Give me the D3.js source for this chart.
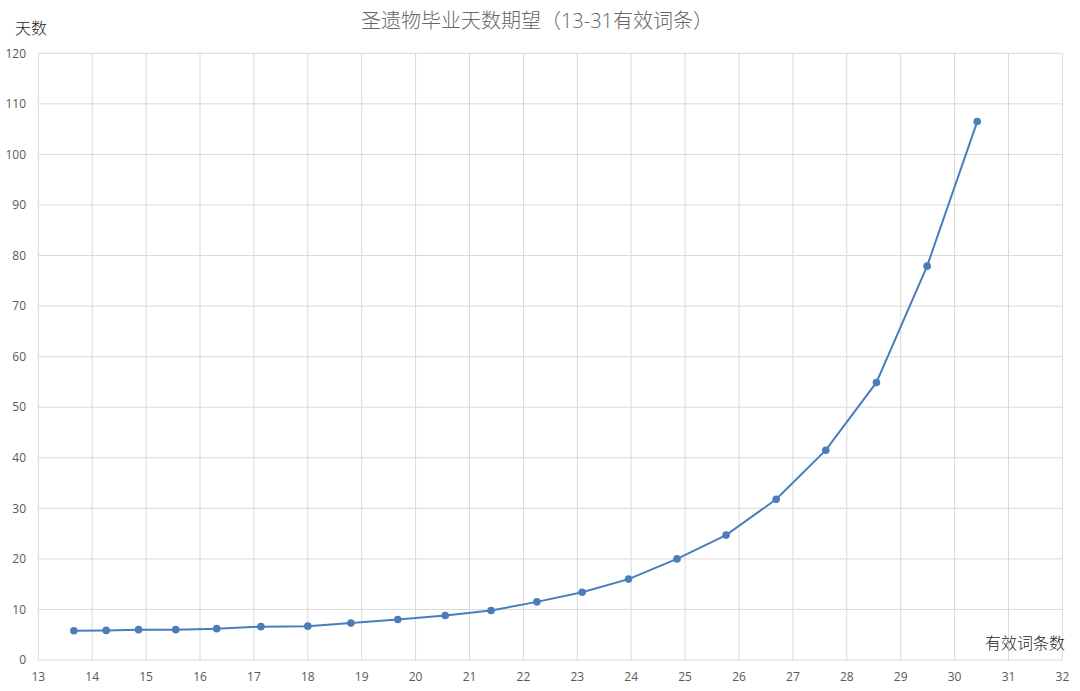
<!DOCTYPE html>
<html><head><meta charset="utf-8">
<script src="https://cdn.jsdelivr.net/npm/d3@7"></script>
<style>
body{margin:0;background:#fff;}
svg{display:block;}
text{font-family:"Open Sans","Noto Sans CJK SC",sans-serif;}
</style></head>
<body>
<svg id="chart" width="1080" height="691"></svg>
<script>
const xValues = [13.66,14.26,14.86,15.55,16.31,17.13,18.0,18.80,19.67,20.55,21.40,22.25,23.09,23.95,24.85,25.76,26.69,27.61,28.55,29.49,30.42];
const yValues = [5.8,5.85,6.0,6.0,6.2,6.6,6.7,7.3,8.0,8.8,9.8,11.5,13.4,16.0,20.0,24.7,31.8,41.5,54.9,77.9,106.5];
const xTicks = d3.range(13,33,1);
const yTicks = d3.range(0,130,10);
const title = "圣遗物毕业天数期望（13-31有效词条）";
const yTitle = "天数";
const xTitle = "有效词条数";

const svg = d3.select("#chart");
const x = d3.scaleLinear().domain([13,32]).range([38.3,1062.4]);
const y = d3.scaleLinear().domain([0,120]).range([660,53.3]);
const grid = "#d9d9d9";

svg.append("g").selectAll("line").data(yTicks).join("line")
  .attr("x1",x(13)).attr("x2",x(32)).attr("y1",d=>y(d)).attr("y2",d=>y(d))
  .attr("stroke",grid).attr("stroke-width",1);
svg.append("g").selectAll("line").data(xTicks).join("line")
  .attr("x1",d=>x(d)).attr("x2",d=>x(d)).attr("y1",y(0)).attr("y2",y(120))
  .attr("stroke",grid).attr("stroke-width",1);

svg.append("g").selectAll("text").data(yTicks).join("text")
  .attr("x",26).attr("y",d=>y(d)).attr("dy","0.35em").attr("text-anchor","end")
  .attr("font-size",12).attr("fill","#595959").text(d=>d);
svg.append("g").selectAll("text").data(xTicks).join("text")
  .attr("x",d=>x(d)).attr("y",681).attr("text-anchor","middle")
  .attr("font-size",12).attr("fill","#595959").text(d=>d);

svg.append("text").attr("x",537).attr("y",28).attr("text-anchor","middle")
  .attr("font-size",20).attr("font-weight",300).attr("fill","#666666").text(title);
svg.append("text").attr("x",15).attr("y",34).attr("font-size",16).attr("font-weight",300).attr("fill","#262626").text(yTitle);
svg.append("text").attr("x",1065).attr("y",649).attr("text-anchor","end").attr("font-size",16).attr("font-weight",300).attr("fill","#262626").text(xTitle);

const data = xValues.map((v,i)=>[v,yValues[i]]);
const line = d3.line().x(d=>x(d[0])).y(d=>y(d[1]));
const color = "#4a7ebb";
svg.append("path").datum(data).attr("d",line).attr("fill","none").attr("stroke",color).attr("stroke-width",2);
svg.append("g").selectAll("circle").data(data).join("circle")
  .attr("cx",d=>x(d[0])).attr("cy",d=>y(d[1])).attr("r",3.8).attr("fill",color);
</script>
</body></html>
